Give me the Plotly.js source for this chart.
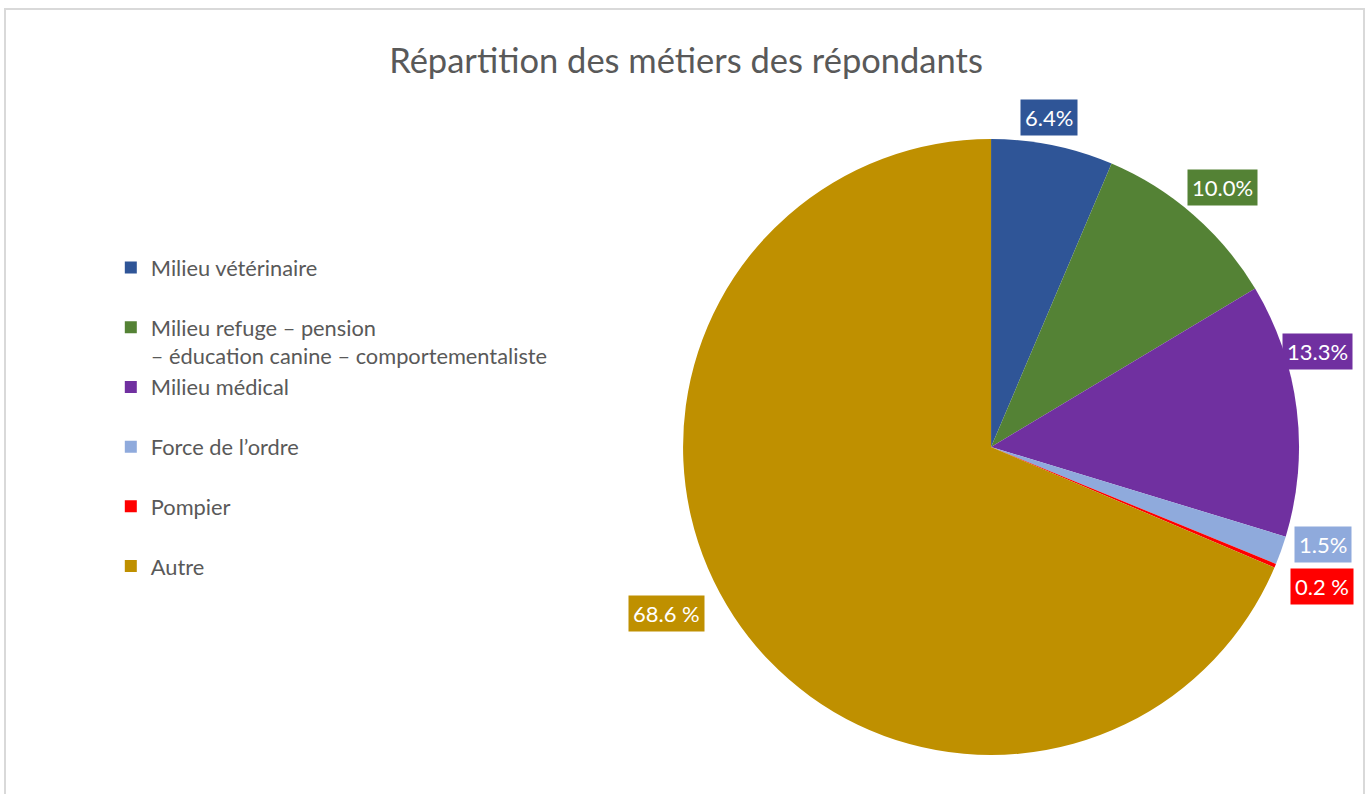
<!DOCTYPE html>
<html>
<head>
<meta charset="utf-8">
<script src="https://cdn.plot.ly/plotly-3.0.1.min.js"></script>
<style>
  html, body { margin: 0; padding: 0; background: #ffffff; }
  #chart { width: 1368px; height: 794px; }
</style>
</head>
<body>
<div id="chart"></div>
<script>
// ---- data ----
const categories = [
  'Milieu vétérinaire',
  'Milieu refuge – pension<br>– éducation canine – comportementaliste',
  'Milieu médical',
  'Force de l’ordre',
  'Pompier',
  'Autre'
];
const values = [6.4, 10.0, 13.3, 1.5, 0.2, 68.6];
const valueLabels = ['6.4%', '10.0%', '13.3%', '1.5%', '0.2 %', '68.6 %'];
const sliceColors = ['#2F5597', '#548235', '#7030A0', '#8FAADC', '#FF0000', '#BF9000'];
const chartTitle = 'Répartition des métiers des répondants';

// ---- styling / placement ----
const W = 1368, H = 794;
const FONT = 'Lato, "Open Sans", sans-serif';
const domX = [0.4993, 0.9496];
const domY = [0.0491, 0.8249];
// label placement: radial factor and angular nudge (deg) for each data label
const labelRadial = [1.088, 1.129, 1.103, 1.124, 1.167, 1.185];
const labelNudge = [-1.5, 0.6, -9.3, -3.2, 0.2, 6.4];

// legend text: single-line entries padded to two lines so spacing matches
const legendLabels = categories.map(c => c.indexOf('<br>') >= 0 ? c : c + '<br>&nbsp;');

// pie geometry in px (margins are 0)
const cx = W * (domX[0] + domX[1]) / 2;
const cy = H * (1 - (domY[0] + domY[1]) / 2);
const R = Math.min(W * (domX[1] - domX[0]), H * (domY[1] - domY[0])) / 2;
const total = values.reduce((a, b) => a + b, 0);

const annotations = [];
let cum = 0;
values.forEach((v, i) => {
  const mid = (cum + v / 2) / total * 360 + labelNudge[i];
  cum += v;
  const t = mid * Math.PI / 180;
  const px = cx + labelRadial[i] * R * Math.sin(t);
  const py = cy - labelRadial[i] * R * Math.cos(t);
  annotations.push({
    x: px / W, y: 1 - py / H, xref: 'paper', yref: 'paper',
    xanchor: 'center', yanchor: 'middle',
    text: valueLabels[i], showarrow: false,
    font: {family: FONT, size: 22, color: '#ffffff'},
    bgcolor: sliceColors[i], borderpad: 4
  });
});

const trace = {
  type: 'pie',
  labels: legendLabels,
  values: values,
  sort: false,
  direction: 'clockwise',
  rotation: 0,
  textinfo: 'none',
  hoverinfo: 'none',
  marker: {colors: sliceColors, line: {width: 0}},
  domain: {x: domX, y: domY}
};

const layout = {
  width: W, height: H,
  margin: {l: 0, r: 0, t: 0, b: 0},
  paper_bgcolor: '#ffffff',
  title: {
    text: chartTitle,
    font: {family: FONT, size: 34.5, color: '#595959'},
    x: 686 / W, xanchor: 'center',
    y: 1 - 61 / H, yanchor: 'middle', yref: 'container'
  },
  showlegend: true,
  legend: {
    x: 0.081, xanchor: 'left',
    y: 0.689, yanchor: 'top',
    valign: 'top',
    font: {family: FONT, size: 21.8, color: '#595959'},
    bgcolor: 'rgba(0,0,0,0)'
  },
  annotations: annotations,
  shapes: [{
    type: 'rect', xref: 'paper', yref: 'paper',
    x0: 5 / W, x1: 1364 / W, y0: -0.05, y1: 1 - 9 / H,
    line: {color: '#D9D9D9', width: 2}, fillcolor: 'rgba(0,0,0,0)', layer: 'below'
  }]
};

Plotly.newPlot('chart', [trace], layout, {displayModeBar: false, staticPlot: true});
</script>
</body>
</html>
